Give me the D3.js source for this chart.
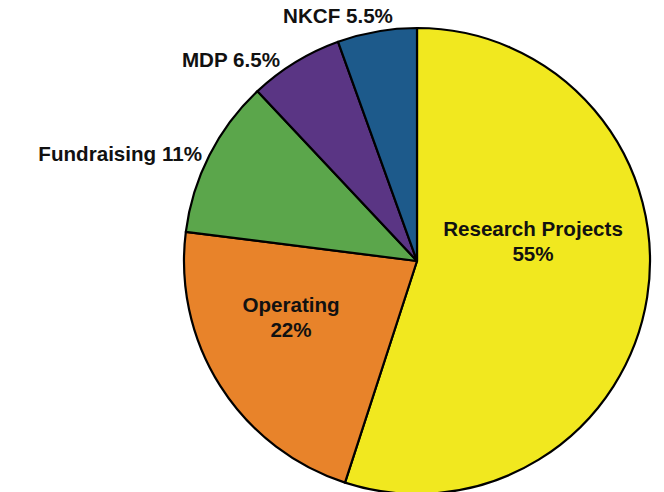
<!DOCTYPE html>
<html>
<head>
<meta charset="utf-8">
<script src="https://cdn.jsdelivr.net/npm/d3@7"></script>
<style>
  html, body { margin: 0; padding: 0; background: #fff; }
  svg { display: block; }
  text { font-family: "Liberation Sans", Arial, Helvetica, sans-serif; font-weight: bold; fill: #111; }
</style>
</head>
<body>
<svg id="chart" width="664" height="492"></svg>
<script>
// ---- data ----
const categories = ["Research Projects", "Operating", "Fundraising", "MDP", "NKCF"];
const values = [55, 22, 11, 6.5, 5.5];
const valueLabels = ["55%", "22%", "11%", "6.5%", "5.5%"];
const colors = ["#f1e81f", "#e8832a", "#5ba64b", "#5a3584", "#1d5a8b"];

// ---- layout ----
const W = 664, H = 492;
const cx = 417, cy = 261, R = 233;

const svg = d3.select("#chart");
const g = svg.append("g").attr("transform", `translate(${cx},${cy})`);

const data = categories.map((c, i) => ({ name: c, value: values[i], label: valueLabels[i], color: colors[i] }));

const pie = d3.pie().sort(null).value(d => d.value);
const arc = d3.arc().innerRadius(0).outerRadius(R);
const arcs = pie(data);

g.selectAll("path.slice")
  .data(arcs)
  .join("path")
  .attr("class", "slice")
  .attr("d", arc)
  .attr("fill", d => d.data.color)
  .attr("stroke", "#000")
  .attr("stroke-width", 2.2)
  .attr("stroke-linejoin", "round");

// label placement (offsets relative to pie center)
const labelLayout = {
  "Research Projects": { dx: 116, dy: -25, anchor: "middle", twoLine: true },
  "Operating": { dx: -126, dy: 51, anchor: "middle", twoLine: true },
  "Fundraising": { dx: -215, dy: -100, anchor: "end", twoLine: false },
  "MDP": { dx: -186, dy: -194, anchor: "middle", twoLine: false },
  "NKCF": { dx: -79, dy: -238, anchor: "middle", twoLine: false }
};

const fs = 20.6;
arcs.forEach(a => {
  const L = labelLayout[a.data.name];
  const t = g.append("text")
    .attr("x", L.dx)
    .attr("y", L.dy)
    .attr("text-anchor", L.anchor)
    .attr("font-size", fs);
  if (L.twoLine) {
    t.append("tspan").attr("x", L.dx).attr("dy", 0).text(a.data.name);
    t.append("tspan").attr("x", L.dx).attr("dy", 25).text(a.data.label);
  } else {
    t.text(a.data.name + " " + a.data.label);
  }
});
</script>
</body>
</html>
